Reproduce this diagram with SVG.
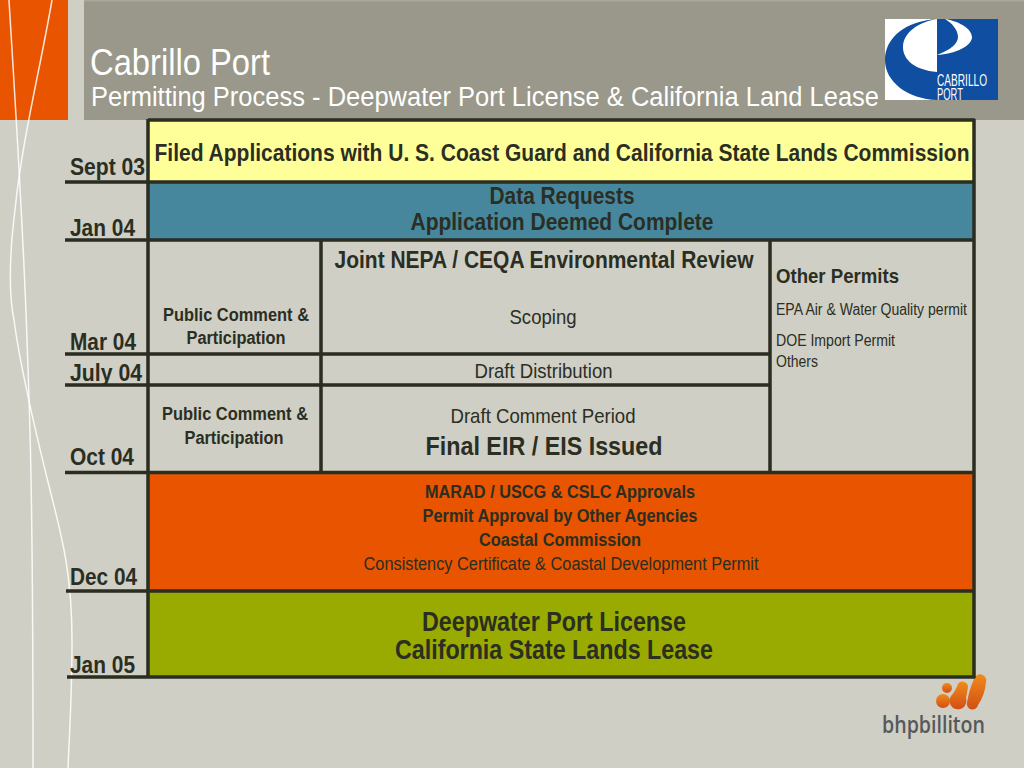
<svg xmlns="http://www.w3.org/2000/svg" width="1024" height="768" viewBox="0 0 1024 768">
<style>
text{font-family:"Liberation Sans",Arial,sans-serif;fill:#2b2e22;text-anchor:middle}
.b{font-weight:bold}
.s{text-anchor:start}
.w{fill:#fff;text-anchor:start}
.ln{stroke:#2a2d20;stroke-width:3.5;fill:none}
.bg{stroke:#fff;stroke-width:1.5;fill:none;opacity:.85}
</style>
<defs>
<linearGradient id="o" x1="0" y1="0" x2="0" y2="1"><stop offset="0" stop-color="#f08a1c"/><stop offset="1" stop-color="#d24f14"/></linearGradient>
</defs>
<rect width="1024" height="768" fill="#cfcfc5"/>
<rect x="0" y="0" width="68" height="120" fill="#e85400"/>
<rect x="84" y="0" width="940" height="120" fill="#99988a"/>
<rect x="84" y="0" width="940" height="1.5" fill="#a9a89b"/>
<path class="bg" d="M9 0C15 100 23 220 27 340C30 420 33 500 33 768"/>
<path class="bg" d="M52 0C40 70 22 140 15 210C10 250 8 290 14 320C20 365 35 430 50 490C60 530 72 570 72 640C72 700 69 740 68 768"/>
<g id="title">
<text class="w" x="90" y="75" font-size="37" textLength="180" lengthAdjust="spacingAndGlyphs">Cabrillo Port</text>
<text class="w" x="91" y="106" font-size="27" textLength="788" lengthAdjust="spacingAndGlyphs">Permitting Process - Deepwater Port License &amp; California Land Lease</text>
</g>
<g id="logo-cabrillo">
<rect x="885" y="19" width="113" height="81" fill="#fff"/>
<rect x="937" y="19" width="61" height="81" fill="#0f4ea0"/>
<path d="M937 19C905 21 885 38 885 60C885 82 908 99 937 100L937 72C915 70 903 60 903 47C903 33 918 22 937 19Z" fill="#0f4ea0"/>
<path d="M945 19C962 22 972 30 972 37C972 46 955 54 937 55C950 50 958 44 958 37C958 30 952 23 945 19Z" fill="#fff"/>
<text x="937" y="85.5" font-size="17" class="w" textLength="50" lengthAdjust="spacingAndGlyphs">CABRILLO</text>
<text x="937" y="99.5" font-size="17" class="w" textLength="26" lengthAdjust="spacingAndGlyphs">PORT</text>
</g>
<g id="logo-bhp" fill="url(#o)">
<circle cx="947" cy="688" r="5"/>
<circle cx="943" cy="701" r="7"/>
<path d="M958 684A5.5 5.5 0 0 1 968 687Q967 693 966 698A8.5 8.5 0 1 1 951 696Q955 692 958 684Z"/>
<path d="M974 679A6 6 0 0 1 986 682Q985 695 978 705A5.5 5.5 0 0 1 967 703Q969 690 974 679Z"/>
<text x="933.5" y="733" font-size="23" textLength="103" lengthAdjust="spacingAndGlyphs" style="fill:#55595a;font-family:'Open Sans',sans-serif;font-weight:600">bhpbilliton</text>
</g>
<g id="yellow"><rect x="148" y="120" width="826" height="61" fill="#ffff99"/>
<text class="b" x="562" y="161" font-size="23" textLength="815" lengthAdjust="spacingAndGlyphs">Filed Applications with U. S. Coast Guard and California State Lands Commission</text></g>
<g id="blue"><rect x="148" y="182" width="826" height="58" fill="#47879d"/>
<text class="b" x="562" y="204" font-size="23" textLength="145" lengthAdjust="spacingAndGlyphs">Data Requests</text>
<text class="b" x="562" y="230" font-size="23" textLength="303" lengthAdjust="spacingAndGlyphs">Application Deemed Complete</text></g>
<g id="orange"><rect x="148" y="473" width="826" height="118" fill="#e85400"/>
<text class="b" x="560" y="497.500" font-size="18" textLength="270" lengthAdjust="spacingAndGlyphs">MARAD / USCG &amp; CSLC Approvals</text>
<text class="b" x="560" y="522" font-size="18" textLength="275" lengthAdjust="spacingAndGlyphs">Permit Approval by Other Agencies</text>
<text class="b" x="560" y="545.500" font-size="18" textLength="162" lengthAdjust="spacingAndGlyphs">Coastal Commission</text>
<text x="561" y="569.500" font-size="18" textLength="395" lengthAdjust="spacingAndGlyphs">Consistency Certificate &amp; Coastal Development Permit</text></g>
<g id="green"><rect x="148" y="592" width="826" height="85" fill="#99aa00"/>
<text class="b" x="554" y="631" font-size="27" textLength="264" lengthAdjust="spacingAndGlyphs">Deepwater Port License</text>
<text class="b" x="554" y="659" font-size="27" textLength="318" lengthAdjust="spacingAndGlyphs">California State Lands Lease</text></g>
<g id="connectors">
<path class="ln" d="M148 119V678M974 119V678M148 120H975M65 182H975M65 240H975M65 354H770M65 385H770M65 472.500H975M66 591H975M67 677H975M321 240V472M770 240V472"/>
</g>
<g id="dates">
<text class="b s" x="70" y="175" font-size="23" textLength="75" lengthAdjust="spacingAndGlyphs">Sept 03</text>
<text class="b s" x="70" y="236" font-size="23" textLength="65" lengthAdjust="spacingAndGlyphs">Jan 04</text>
<text class="b s" x="70" y="350" font-size="23" textLength="66" lengthAdjust="spacingAndGlyphs">Mar 04</text>
<text class="b s" x="70" y="381" font-size="23" textLength="72" lengthAdjust="spacingAndGlyphs">July 04</text>
<text class="b s" x="70" y="465" font-size="23" textLength="64" lengthAdjust="spacingAndGlyphs">Oct 04</text>
<text class="b s" x="70" y="585" font-size="23" textLength="67" lengthAdjust="spacingAndGlyphs">Dec 04</text>
<text class="b s" x="70" y="673" font-size="23" textLength="65" lengthAdjust="spacingAndGlyphs">Jan 05</text>
</g>
<g id="public-1">
<text class="b" x="236" y="321" font-size="18" textLength="146" lengthAdjust="spacingAndGlyphs">Public Comment &amp;</text>
<text class="b" x="236" y="344" font-size="18" textLength="99" lengthAdjust="spacingAndGlyphs">Participation</text></g>
<g id="public-2">
<text class="b" x="235" y="420" font-size="18" textLength="146" lengthAdjust="spacingAndGlyphs">Public Comment &amp;</text>
<text class="b" x="234" y="444" font-size="18" textLength="99" lengthAdjust="spacingAndGlyphs">Participation</text></g>
<g id="review">
<text class="b" x="544" y="268" font-size="23" textLength="419" lengthAdjust="spacingAndGlyphs">Joint NEPA / CEQA Environmental Review</text>
<text x="543" y="324" font-size="21" textLength="67" lengthAdjust="spacingAndGlyphs">Scoping</text></g>
<g id="draft"><text x="543.500" y="378" font-size="21" textLength="138" lengthAdjust="spacingAndGlyphs">Draft Distribution</text></g>
<g id="final">
<text x="543" y="423" font-size="21" textLength="185" lengthAdjust="spacingAndGlyphs">Draft Comment Period</text>
<text class="b" x="544" y="455" font-size="26" textLength="237" lengthAdjust="spacingAndGlyphs">Final EIR / EIS Issued</text></g>
<g id="other">
<text class="b s" x="776" y="283" font-size="21" textLength="123" lengthAdjust="spacingAndGlyphs">Other Permits</text>
<text class="s" x="776" y="315" font-size="16" textLength="191" lengthAdjust="spacingAndGlyphs">EPA Air &amp; Water Quality permit</text>
<text class="s" x="776" y="346" font-size="16" textLength="119" lengthAdjust="spacingAndGlyphs">DOE Import Permit</text>
<text class="s" x="776" y="367" font-size="16" textLength="42" lengthAdjust="spacingAndGlyphs">Others</text></g>
</svg>
